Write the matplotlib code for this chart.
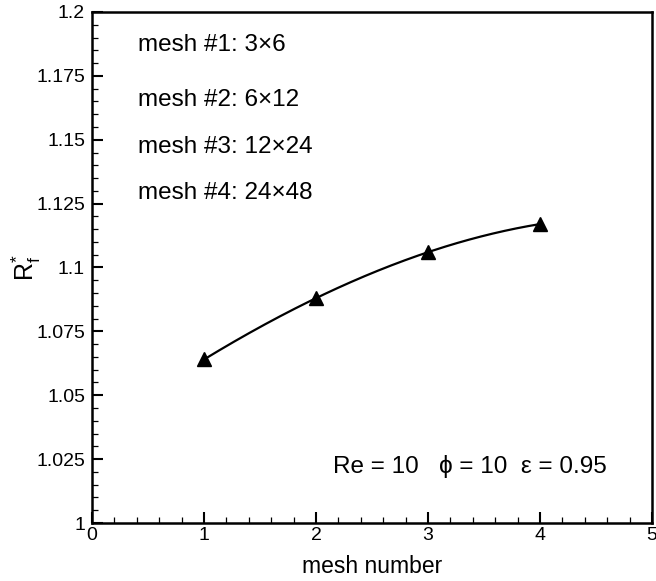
import numpy as np
import matplotlib
matplotlib.use("Agg")
import matplotlib.pyplot as plt
from matplotlib.ticker import MultipleLocator, FuncFormatter

plt.rcParams['font.family'] = ['Liberation Sans', 'DejaVu Sans']
plt.rcParams['mathtext.fontset'] = 'custom'
plt.rcParams['mathtext.rm'] = 'Liberation Sans'
plt.rcParams['mathtext.it'] = 'Liberation Sans'

mesh_number = [1, 2, 3, 4]
rf_star = [1.064, 1.088, 1.106, 1.117]
mesh_labels = ["mesh #1: 3×6", "mesh #2: 6×12", "mesh #3: 12×24", "mesh #4: 24×48"]
conditions = "Re = 10   ϕ = 10  ε = 0.95"

fig = plt.figure(figsize=(6.56, 5.81), dpi=100)
ax = fig.add_axes([92 / 656, 1 - 523 / 581, (652 - 92) / 656, (523 - 12) / 581])

# smooth curve through the four points
coef = np.polyfit(mesh_number, rf_star, 3)
xs = np.linspace(mesh_number[0], mesh_number[-1], 200)
ax.plot(xs, np.polyval(coef, xs), color='black', lw=1.6, zorder=2)
ax.plot(mesh_number, rf_star, linestyle='none', marker='^', color='black',
        markersize=10, zorder=3)

ax.set_xlim(0, 5)
ax.set_ylim(1.0, 1.2)
ax.xaxis.set_major_locator(MultipleLocator(1))
ax.xaxis.set_minor_locator(MultipleLocator(0.2))
ax.yaxis.set_major_locator(MultipleLocator(0.025))
ax.yaxis.set_minor_locator(MultipleLocator(0.005))

def fmt(v, pos):
    s = f"{v:.3f}".rstrip('0').rstrip('.')
    return s
ax.yaxis.set_major_formatter(FuncFormatter(fmt))

ax.tick_params(which='both', direction='in', top=False, right=False,
               labelsize=14, width=1.5)
ax.tick_params(which='major', length=8)
ax.tick_params(which='minor', length=4, width=0.9)
ax.tick_params(axis='x', pad=3)
ax.tick_params(axis='y', pad=5)
for sp in ax.spines.values():
    sp.set_linewidth(1.8)

ax.set_xlabel("mesh number", fontsize=16.5, labelpad=8)
ax.set_ylabel(r"$\mathrm{R}_\mathrm{f}^{*}$", fontsize=18)
ax.yaxis.set_label_coords(-0.088, 0.5)

ys = [0.935, 0.828, 0.736, 0.646]
for lab, yy in zip(mesh_labels, ys):
    ax.text(0.082, yy, lab, transform=ax.transAxes, fontsize=17.5,
            va='center', ha='left')
ax.text(0.430, 0.110, conditions, transform=ax.transAxes, fontsize=17.5,
        va='center', ha='left')

fig.savefig("out.png", dpi=100)
